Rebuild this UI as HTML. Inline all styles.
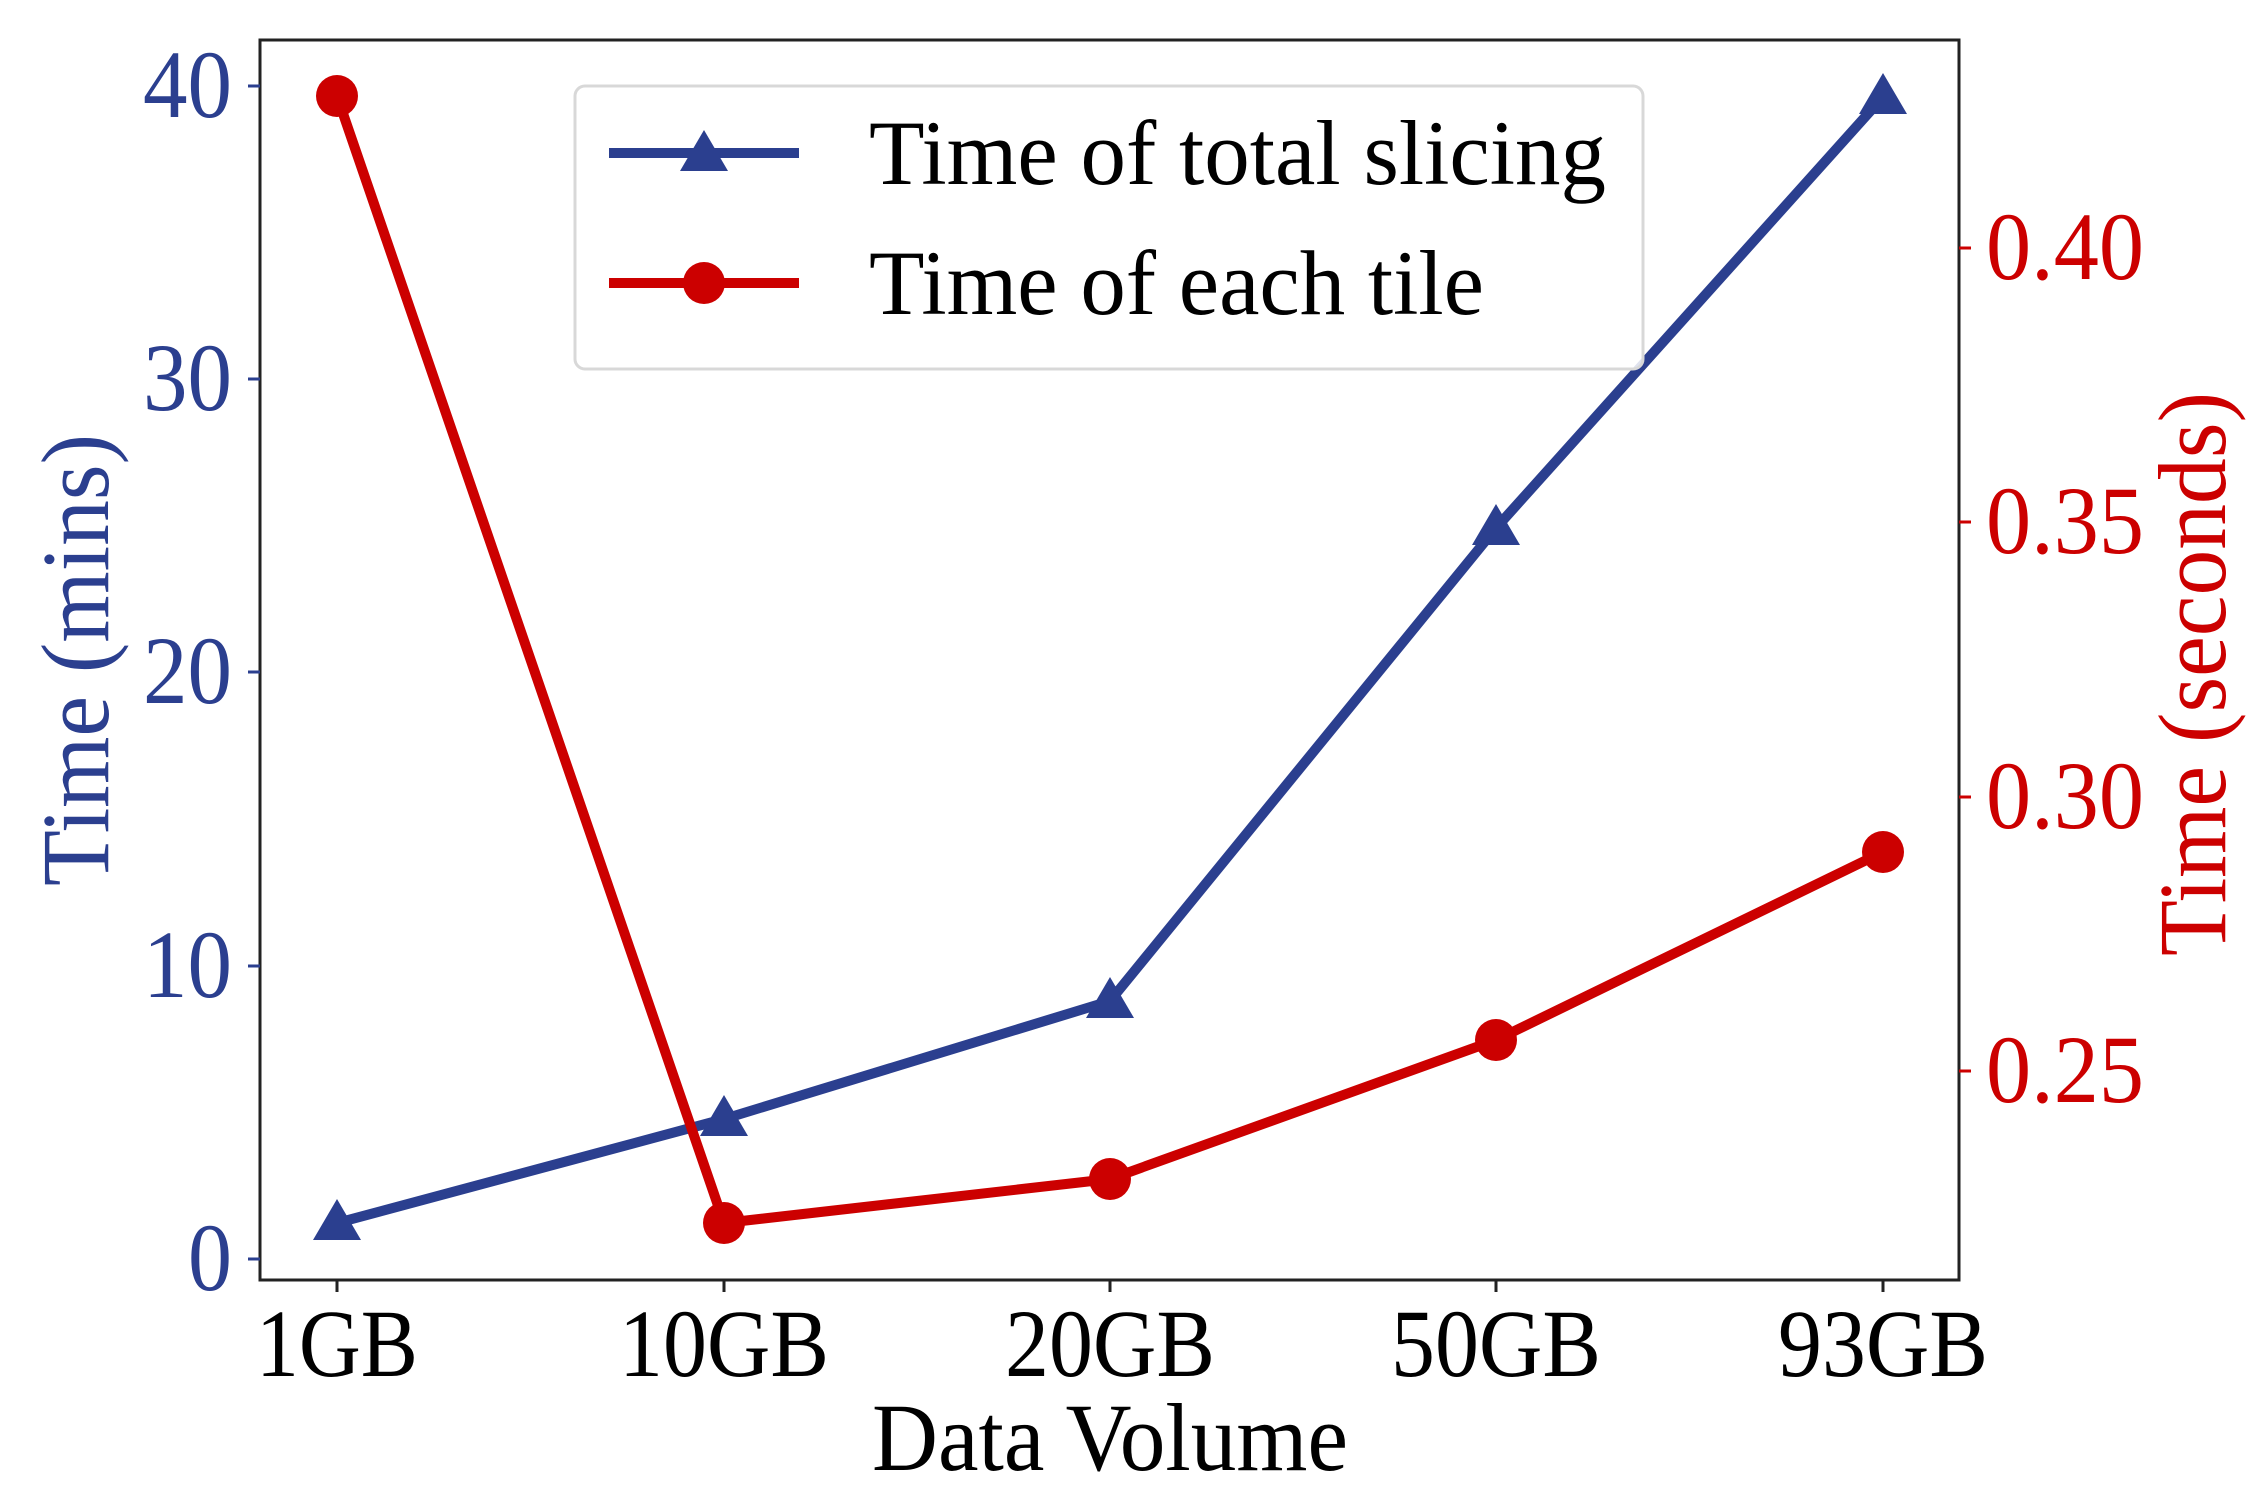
<!DOCTYPE html>
<html><head><meta charset="utf-8"><style>html,body{margin:0;padding:0;background:#fff}svg{display:block}</style></head>
<body>
<svg width="2248" height="1495" viewBox="0 0 2248 1495" xmlns="http://www.w3.org/2000/svg" font-family="'Liberation Serif', serif">
<rect width="2248" height="1495" fill="#fff"/>
<rect x="260" y="40" width="1699" height="1240" fill="none" stroke="#222" stroke-width="3"/>
<g stroke="#2b3f8f" stroke-width="3">
<line x1="248" y1="1259" x2="260" y2="1259"/><line x1="248" y1="966" x2="260" y2="966"/>
<line x1="248" y1="672" x2="260" y2="672"/><line x1="248" y1="379" x2="260" y2="379"/>
<line x1="248" y1="86" x2="260" y2="86"/>
</g>
<g fill="#2b3f8f" font-size="96" text-anchor="end">
<text x="232" y="1290" textLength="44" lengthAdjust="spacingAndGlyphs">0</text>
<text x="232" y="997" textLength="89" lengthAdjust="spacingAndGlyphs">10</text>
<text x="232" y="703" textLength="89" lengthAdjust="spacingAndGlyphs">20</text>
<text x="232" y="410" textLength="89" lengthAdjust="spacingAndGlyphs">30</text>
<text x="232" y="117" textLength="89" lengthAdjust="spacingAndGlyphs">40</text>
</g>
<text transform="translate(108,660) rotate(-90)" fill="#2b3f8f" font-size="96" text-anchor="middle" textLength="452" lengthAdjust="spacingAndGlyphs">Time (mins)</text>
<g stroke="#cc0000" stroke-width="3">
<line x1="1959" y1="248" x2="1971" y2="248"/><line x1="1959" y1="522" x2="1971" y2="522"/>
<line x1="1959" y1="797" x2="1971" y2="797"/><line x1="1959" y1="1071" x2="1971" y2="1071"/>
</g>
<g fill="#cc0000" font-size="96">
<text x="1986" y="279" textLength="158" lengthAdjust="spacingAndGlyphs">0.40</text>
<text x="1986" y="553" textLength="158" lengthAdjust="spacingAndGlyphs">0.35</text>
<text x="1986" y="828" textLength="158" lengthAdjust="spacingAndGlyphs">0.30</text>
<text x="1986" y="1102" textLength="158" lengthAdjust="spacingAndGlyphs">0.25</text>
</g>
<text transform="translate(2225,674) rotate(-90)" fill="#cc0000" font-size="96" text-anchor="middle" textLength="564" lengthAdjust="spacingAndGlyphs">Time (seconds)</text>
<g stroke="#222" stroke-width="3">
<line x1="337" y1="1280" x2="337" y2="1292"/><line x1="724" y1="1280" x2="724" y2="1292"/>
<line x1="1110" y1="1280" x2="1110" y2="1292"/><line x1="1496" y1="1280" x2="1496" y2="1292"/>
<line x1="1883" y1="1280" x2="1883" y2="1292"/>
</g>
<g fill="#000" font-size="96" text-anchor="middle">
<text x="337" y="1376" textLength="162" lengthAdjust="spacingAndGlyphs">1GB</text>
<text x="724" y="1376" textLength="210" lengthAdjust="spacingAndGlyphs">10GB</text>
<text x="1110" y="1376" textLength="210" lengthAdjust="spacingAndGlyphs">20GB</text>
<text x="1496" y="1376" textLength="210" lengthAdjust="spacingAndGlyphs">50GB</text>
<text x="1883" y="1376" textLength="210" lengthAdjust="spacingAndGlyphs">93GB</text>
</g>
<text x="1110" y="1470" font-size="96" text-anchor="middle" fill="#000" textLength="476" lengthAdjust="spacingAndGlyphs">Data Volume</text>
<polyline points="337,1223 724,1119 1110,1001 1496,528 1883,97" fill="none" stroke="#2b3f8f" stroke-width="10" stroke-linejoin="round"/>
<g fill="#2b3f8f">
<polygon points="337,1199 313,1240 361,1240"/><polygon points="724,1095 700,1136 748,1136"/>
<polygon points="1110,977 1086,1018 1134,1018"/><polygon points="1496,504 1472,545 1520,545"/>
<polygon points="1883,73 1859,114 1907,114"/>
</g>
<polyline points="337,96 724,1223 1110,1179 1496,1040 1883,852" fill="none" stroke="#cc0000" stroke-width="10" stroke-linejoin="round"/>
<g fill="#cc0000">
<circle cx="337" cy="96" r="21"/><circle cx="724" cy="1223" r="21"/><circle cx="1110" cy="1179" r="21"/>
<circle cx="1496" cy="1040" r="21"/><circle cx="1883" cy="852" r="21"/>
</g>
<rect x="575" y="86" width="1068" height="283" rx="10" fill="#fff" fill-opacity="0.85" stroke="#d8d8d8" stroke-width="3"/>
<line x1="609" y1="153" x2="799" y2="153" stroke="#2b3f8f" stroke-width="10"/>
<polygon points="704,130 680,171 728,171" fill="#2b3f8f"/>
<line x1="609" y1="283" x2="799" y2="283" stroke="#cc0000" stroke-width="10"/>
<circle cx="704" cy="283" r="21" fill="#cc0000"/>
<text x="869" y="184" font-size="92" fill="#000" textLength="737" lengthAdjust="spacingAndGlyphs">Time of total slicing</text>
<text x="869" y="314" font-size="92" fill="#000" textLength="615" lengthAdjust="spacingAndGlyphs">Time of each tile</text>
</svg>
</body></html>
